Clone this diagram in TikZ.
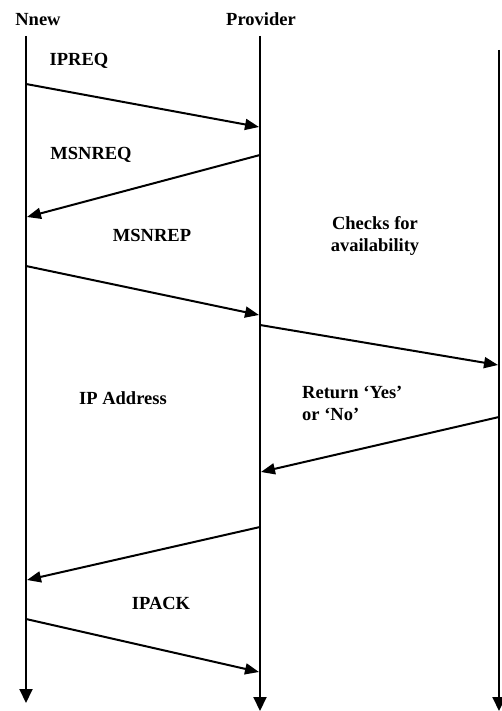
\documentclass[tikz,border=0pt]{standalone}
\usepackage{fontspec}
\setmainfont{Liberation Serif}
\usetikzlibrary{arrows.meta}

\tikzset{
  lifeline/.style={line width=2pt, -{Triangle[length=14pt,width=13pt]}},
  msg/.style={line width=2pt, -{Triangle[length=14pt,width=11pt]}},
  lbl/.style={font=\fontsize{18.5}{22}\selectfont\bfseries, inner sep=0pt}
}

\begin{document}
\begin{tikzpicture}[x=1pt,y=-1pt]
  \useasboundingbox (0,0) rectangle (501,711);

  % heads of the lines
  \node[lbl] (nnew) at (38,20) {Nnew};
  \node[lbl] (prov) at (261,19) {Provider};

  % life lines
  \coordinate (nTop) at (26,36);   \coordinate (nBot) at (26,703);
  \coordinate (pTop) at (260,36);  \coordinate (pBot) at (260,711);
  \coordinate (rTop) at (499,50);  \coordinate (rBot) at (499,711);
  \draw[lifeline] (nTop) -- (nBot);
  \draw[lifeline] (pTop) -- (pBot);
  \draw[lifeline] (rTop) -- (rBot);

  % ends of the messages
  \coordinate (a1) at (26,84);   \coordinate (b1) at (259,127);
  \coordinate (a2) at (260,155); \coordinate (b2) at (27,217);
  \coordinate (a3) at (26,266);  \coordinate (b3) at (259,315);
  \coordinate (a4) at (260,325); \coordinate (b4) at (498,365);
  \coordinate (a5) at (499,417); \coordinate (b5) at (261,472);
  \coordinate (a6) at (260,527); \coordinate (b6) at (27,580);
  \coordinate (a7) at (26,619);  \coordinate (b7) at (259,672);

  \draw[msg] (a1) -- (b1);
  \draw[msg] (a2) -- (b2);
  \draw[msg] (a3) -- (b3);
  \draw[msg] (a4) -- (b4);
  \draw[msg] (a5) -- (b5);
  \draw[msg] (a6) -- (b6);
  \draw[msg] (a7) -- (b7);

  % labels
  \node[lbl] (ipreq) at (79,61) {IPREQ};
  \node[lbl] (msnreq) at (91,155) {MSNREQ};
  \node[lbl] (msnrep) at (152,235) {MSNREP};
  \node[lbl, align=center] (checks) at (375,236) {Checks for\\availability};
  \node[lbl] (ipaddr) at (123,398) {IP Address};
  \node[lbl, align=left, anchor=west] (ret) at (302,403) {Return ‘Yes’\\or ‘No’};
  \node[lbl] (ipack) at (161,603) {IPACK};
\end{tikzpicture}
\end{document}
